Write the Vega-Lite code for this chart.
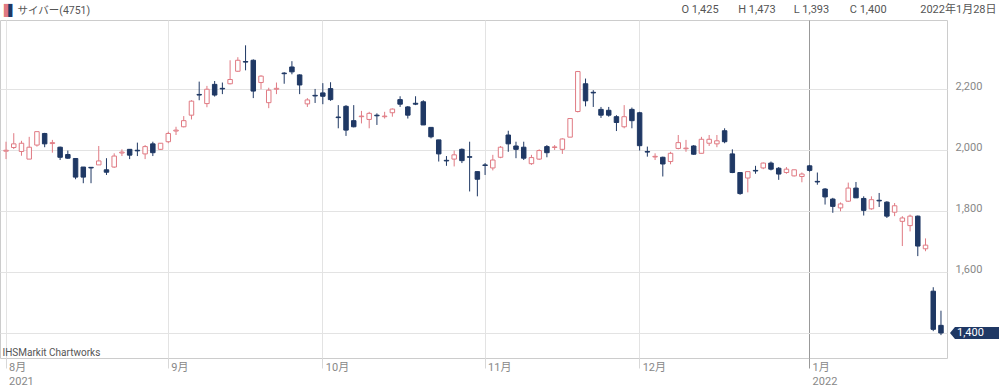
{
  "$schema": "https://vega.github.io/schema/vega-lite/v6.json",
  "width": 947,
  "height": 338,
  "autosize": "none",
  "padding": {"left": 0, "top": 20, "right": 53, "bottom": 31},
  "background": "white",
  "title": {
    "text": "▌",
    "subtitle": "▐",
    "anchor": "start",
    "frame": "group",
    "font": "DejaVu Sans",
    "fontSize": 11,
    "fontWeight": "normal",
    "color": "#e07a83",
    "subtitleFont": "DejaVu Sans",
    "subtitleFontSize": 11,
    "subtitleColor": "#1f3864",
    "subtitlePadding": -11,
    "offset": 0,
    "dx": 4,
    "dy": 13
  },
  "config": {
    "view": {"stroke": "#cccccc"},
    "font": "Roboto, Noto Sans CJK JP"
  },
  "datasets": {
    "p": [
      {"d":"2021-08-02","o":1996,"h":2027,"l":1970,"c":1999},
      {"d":"2021-08-03","o":2008,"h":2055,"l":2003,"c":2020},
      {"d":"2021-08-04","o":1995,"h":2030,"l":1981,"c":2022},
      {"d":"2021-08-05","o":1970,"h":2043,"l":1970,"c":2009},
      {"d":"2021-08-06","o":2016,"h":2060,"l":2011,"c":2060},
      {"d":"2021-08-10","o":2054,"h":2056,"l":2009,"c":2020},
      {"d":"2021-08-11","o":2021,"h":2033,"l":1991,"c":2024},
      {"d":"2021-08-12","o":2009,"h":2011,"l":1967,"c":1976},
      {"d":"2021-08-13","o":1985,"h":1998,"l":1971,"c":1973},
      {"d":"2021-08-16","o":1972,"h":1972,"l":1904,"c":1911},
      {"d":"2021-08-17","o":1944,"h":1944,"l":1891,"c":1911},
      {"d":"2021-08-18","o":1943,"h":1944,"l":1891,"c":1941},
      {"d":"2021-08-19","o":1951,"h":2013,"l":1951,"c":1964},
      {"d":"2021-08-20","o":1935,"h":1973,"l":1918,"c":1927},
      {"d":"2021-08-23","o":1944,"h":1989,"l":1941,"c":1980},
      {"d":"2021-08-24","o":1990,"h":2002,"l":1980,"c":1993},
      {"d":"2021-08-25","o":2002,"h":2003,"l":1970,"c":1983},
      {"d":"2021-08-26","o":1999,"h":2024,"l":1980,"c":1997},
      {"d":"2021-08-27","o":1987,"h":2016,"l":1970,"c":2011},
      {"d":"2021-08-30","o":2020,"h":2027,"l":1980,"c":1991},
      {"d":"2021-08-31","o":2002,"h":2022,"l":2000,"c":2022},
      {"d":"2021-09-01","o":2027,"h":2060,"l":2022,"c":2054},
      {"d":"2021-09-02","o":2062,"h":2076,"l":2049,"c":2065},
      {"d":"2021-09-03","o":2076,"h":2111,"l":2074,"c":2096},
      {"d":"2021-09-06","o":2114,"h":2163,"l":2100,"c":2160},
      {"d":"2021-09-07","o":2182,"h":2224,"l":2163,"c":2180},
      {"d":"2021-09-08","o":2152,"h":2210,"l":2140,"c":2199},
      {"d":"2021-09-09","o":2215,"h":2226,"l":2175,"c":2180},
      {"d":"2021-09-10","o":2202,"h":2221,"l":2183,"c":2200},
      {"d":"2021-09-13","o":2217,"h":2294,"l":2215,"c":2231},
      {"d":"2021-09-14","o":2258,"h":2304,"l":2256,"c":2294},
      {"d":"2021-09-15","o":2290,"h":2343,"l":2261,"c":2288},
      {"d":"2021-09-16","o":2294,"h":2297,"l":2170,"c":2193},
      {"d":"2021-09-17","o":2221,"h":2245,"l":2199,"c":2242},
      {"d":"2021-09-21","o":2155,"h":2204,"l":2137,"c":2196},
      {"d":"2021-09-22","o":2199,"h":2221,"l":2183,"c":2202},
      {"d":"2021-09-24","o":2252,"h":2255,"l":2217,"c":2250},
      {"d":"2021-09-27","o":2272,"h":2291,"l":2248,"c":2256},
      {"d":"2021-09-28","o":2246,"h":2248,"l":2183,"c":2213},
      {"d":"2021-09-29","o":2151,"h":2170,"l":2141,"c":2164},
      {"d":"2021-09-30","o":2179,"h":2200,"l":2154,"c":2177},
      {"d":"2021-10-01","o":2187,"h":2219,"l":2150,"c":2176},
      {"d":"2021-10-04","o":2201,"h":2222,"l":2161,"c":2165},
      {"d":"2021-10-05","o":2108,"h":2147,"l":2071,"c":2106},
      {"d":"2021-10-06","o":2143,"h":2147,"l":2046,"c":2065},
      {"d":"2021-10-07","o":2096,"h":2147,"l":2074,"c":2076},
      {"d":"2021-10-08","o":2109,"h":2128,"l":2087,"c":2111},
      {"d":"2021-10-11","o":2100,"h":2125,"l":2071,"c":2120},
      {"d":"2021-10-12","o":2114,"h":2120,"l":2082,"c":2112},
      {"d":"2021-10-13","o":2109,"h":2125,"l":2103,"c":2111},
      {"d":"2021-10-14","o":2122,"h":2136,"l":2109,"c":2134},
      {"d":"2021-10-15","o":2165,"h":2176,"l":2141,"c":2150},
      {"d":"2021-10-18","o":2141,"h":2144,"l":2103,"c":2114},
      {"d":"2021-10-19","o":2153,"h":2176,"l":2147,"c":2150},
      {"d":"2021-10-20","o":2158,"h":2163,"l":2082,"c":2082},
      {"d":"2021-10-21","o":2074,"h":2074,"l":2038,"c":2043},
      {"d":"2021-10-22","o":2033,"h":2033,"l":1962,"c":1987},
      {"d":"2021-10-25","o":1966,"h":1980,"l":1948,"c":1964},
      {"d":"2021-10-26","o":1970,"h":1998,"l":1946,"c":1984},
      {"d":"2021-10-27","o":2002,"h":2005,"l":1957,"c":1965},
      {"d":"2021-10-28","o":1978,"h":2027,"l":1864,"c":1976},
      {"d":"2021-10-29","o":1929,"h":1929,"l":1848,"c":1904},
      {"d":"2021-11-01","o":1951,"h":1957,"l":1918,"c":1949},
      {"d":"2021-11-02","o":1941,"h":1984,"l":1933,"c":1967},
      {"d":"2021-11-04","o":1976,"h":2013,"l":1973,"c":2009},
      {"d":"2021-11-05","o":2049,"h":2063,"l":1994,"c":2020},
      {"d":"2021-11-08","o":2013,"h":2027,"l":1973,"c":2002},
      {"d":"2021-11-09","o":2009,"h":2027,"l":1967,"c":1973},
      {"d":"2021-11-10","o":1955,"h":1984,"l":1951,"c":1975},
      {"d":"2021-11-11","o":1970,"h":2002,"l":1967,"c":1998},
      {"d":"2021-11-12","o":2011,"h":2016,"l":1976,"c":1991},
      {"d":"2021-11-15","o":2008,"h":2016,"l":2000,"c":2010},
      {"d":"2021-11-16","o":2002,"h":2038,"l":1987,"c":2036},
      {"d":"2021-11-17","o":2042,"h":2103,"l":2042,"c":2103},
      {"d":"2021-11-18","o":2126,"h":2259,"l":2123,"c":2257},
      {"d":"2021-11-19","o":2217,"h":2234,"l":2143,"c":2161},
      {"d":"2021-11-22","o":2189,"h":2196,"l":2141,"c":2187},
      {"d":"2021-11-24","o":2133,"h":2141,"l":2105,"c":2114},
      {"d":"2021-11-25","o":2130,"h":2141,"l":2109,"c":2114},
      {"d":"2021-11-26","o":2109,"h":2114,"l":2062,"c":2090},
      {"d":"2021-11-29","o":2076,"h":2147,"l":2071,"c":2109},
      {"d":"2021-11-30","o":2133,"h":2139,"l":2071,"c":2096},
      {"d":"2021-12-01","o":2122,"h":2125,"l":1998,"c":2014},
      {"d":"2021-12-02","o":1995,"h":2011,"l":1978,"c":1993},
      {"d":"2021-12-03","o":1977,"h":1989,"l":1967,"c":1979},
      {"d":"2021-12-06","o":1976,"h":1978,"l":1913,"c":1954},
      {"d":"2021-12-07","o":1962,"h":1994,"l":1953,"c":1989},
      {"d":"2021-12-08","o":2005,"h":2049,"l":2002,"c":2024},
      {"d":"2021-12-09","o":2004,"h":2033,"l":1994,"c":2006},
      {"d":"2021-12-10","o":2013,"h":2016,"l":1984,"c":1986},
      {"d":"2021-12-13","o":1989,"h":2043,"l":1989,"c":2035},
      {"d":"2021-12-14","o":2022,"h":2049,"l":2013,"c":2035},
      {"d":"2021-12-15","o":2020,"h":2049,"l":2009,"c":2030},
      {"d":"2021-12-16","o":2063,"h":2071,"l":2022,"c":2027},
      {"d":"2021-12-17","o":1987,"h":2002,"l":1924,"c":1926},
      {"d":"2021-12-20","o":1926,"h":1926,"l":1853,"c":1857},
      {"d":"2021-12-21","o":1908,"h":1929,"l":1861,"c":1929},
      {"d":"2021-12-22","o":1933,"h":1948,"l":1922,"c":1931},
      {"d":"2021-12-23","o":1941,"h":1959,"l":1937,"c":1957},
      {"d":"2021-12-24","o":1957,"h":1962,"l":1933,"c":1937},
      {"d":"2021-12-27","o":1940,"h":1944,"l":1902,"c":1921},
      {"d":"2021-12-28","o":1926,"h":1944,"l":1922,"c":1937},
      {"d":"2021-12-29","o":1915,"h":1935,"l":1913,"c":1935},
      {"d":"2021-12-30","o":1913,"h":1926,"l":1894,"c":1921},
      {"d":"2022-01-04","o":1948,"h":1951,"l":1929,"c":1933},
      {"d":"2022-01-05","o":1897,"h":1926,"l":1886,"c":1895},
      {"d":"2022-01-06","o":1872,"h":1875,"l":1821,"c":1846},
      {"d":"2022-01-07","o":1839,"h":1843,"l":1794,"c":1815},
      {"d":"2022-01-11","o":1810,"h":1828,"l":1799,"c":1823},
      {"d":"2022-01-12","o":1832,"h":1893,"l":1830,"c":1875},
      {"d":"2022-01-13","o":1875,"h":1895,"l":1843,"c":1843},
      {"d":"2022-01-14","o":1841,"h":1848,"l":1785,"c":1802},
      {"d":"2022-01-17","o":1807,"h":1848,"l":1804,"c":1837},
      {"d":"2022-01-18","o":1835,"h":1859,"l":1813,"c":1833},
      {"d":"2022-01-19","o":1829,"h":1832,"l":1777,"c":1783},
      {"d":"2022-01-20","o":1796,"h":1826,"l":1783,"c":1817},
      {"d":"2022-01-21","o":1766,"h":1783,"l":1685,"c":1777},
      {"d":"2022-01-24","o":1752,"h":1788,"l":1733,"c":1783},
      {"d":"2022-01-25","o":1783,"h":1785,"l":1652,"c":1685},
      {"d":"2022-01-26","o":1676,"h":1710,"l":1668,"c":1688},
      {"d":"2022-01-27","o":1537,"h":1550,"l":1406,"c":1412},
      {"d":"2022-01-28","o":1425,"h":1473,"l":1393,"c":1400}
    ]
  },
  "data": {"name": "p"},
  "encoding": {
    "x": {
      "field": "d", "type": "ordinal",
      "scale": {"paddingInner": 0.42, "paddingOuter": 0.49},
      "axis": {
        "orient": "bottom",
        "values": ["2021-08-02","2021-09-01","2021-10-01","2021-11-01","2021-12-01","2022-01-04"],
        "labelExpr": "datum.value == '2021-08-02' ? ['8月','2021'] : datum.value == '2022-01-04' ? ['1月','2022'] : (toNumber(substring(datum.value,5,7)) + '月')",
        "labelAngle": 0,
        "labelAlign": "left",
        "labelBaseline": "top",
        "labelOffset": 3,
        "labelPadding": -7,
        "labelLineHeight": 14,
        "labelColor": "#888888",
        "labelFontSize": 11,
        "labelOverlap": false,
        "tickSize": 10,
        "tickColor": {"condition": {"test": "datum.value == '2022-01-04'", "value": "#999999"}, "value": "#d8d8d8"},
        "grid": true,
        "gridColor": {"condition": {"test": "datum.value == '2022-01-04'", "value": "#999999"}, "value": "#e3e3e3"},
        "domain": false,
        "title": "IHSMarkit Chartworks",
        "titleX": 2,
        "titleY": -6,
        "titleAlign": "left",
        "titleBaseline": "middle",
        "titleFontSize": 10,
        "titleFontWeight": "normal",
        "titleColor": "#555555"
      }
    }
  },
  "layer": [
    {
      "mark": {"type": "rule", "strokeWidth": 1},
      "encoding": {
        "y": {
          "field": "l", "type": "quantitative",
          "scale": {"domain": [1318, 2426], "nice": false, "zero": false},
          "axis": {
            "orient": "right",
            "values": [1400, 1600, 1800, 2000, 2200],
            "format": ",.0f",
            "labelExpr": "datum.value == 1400 ? '' : datum.label",
            "labelColor": "#888888",
            "labelFontSize": 11,
            "labelPadding": 8,
            "labelOffset": -2,
            "ticks": false,
            "domain": false,
            "grid": true,
            "gridColor": "#e3e3e3",
            "title": "O 1,425\u2003\u2002\u2005H 1,473\u2003\u2002\u200aL 1,393\u2003\u2002\u2004C 1,400\u2003\u2003\u20032022年1月28日",
            "titleAngle": 0,
            "titleX": 49,
            "titleY": -11,
            "titleAlign": "right",
            "titleBaseline": "middle",
            "titleFontSize": 11,
            "titleFontWeight": "normal",
            "titleColor": "#555555"
          }
        },
        "y2": {"field": "h"},
        "color": {"condition": {"test": "datum.c < datum.o", "value": "#1f3864"}, "value": "#e07a83"}
      }
    },
    {
      "mark": {"type": "bar", "strokeWidth": 1},
      "encoding": {
        "y": {
          "field": "o", "type": "quantitative",
          "scale": {"domain": [1318, 2426], "nice": false, "zero": false},
          "axis": {
            "orient": "left",
            "labels": false, "ticks": false, "domain": false, "grid": false,
            "title": "サイバー(4751)",
            "titleAngle": 0,
            "titleX": 17,
            "titleY": -10,
            "titleAlign": "left",
            "titleBaseline": "middle",
            "titleFontSize": 10.5,
            "titleFontWeight": "normal",
            "titleColor": "#555555"
          }
        },
        "y2": {"field": "c"},
        "fill": {"condition": {"test": "datum.c < datum.o", "value": "#1f3864"}, "value": "#ffffff"},
        "stroke": {"condition": {"test": "datum.c < datum.o", "value": "#1f3864"}, "value": "#e07a83"}
      }
    },
    {
      "transform": [{"filter": "datum.d == '2022-01-28'"}],
      "mark": {"type": "point", "filled": true, "opacity": 1, "size": 4, "shape": "M9,0L14,-6L58,-6L58,6L14,6Z", "color": "#1f3864", "clip": false},
      "encoding": {
        "y": {"field": "c", "type": "quantitative", "axis": null, "scale": {"domain": [1318, 2426], "nice": false, "zero": false}}
      }
    },
    {
      "transform": [{"filter": "datum.d == '2022-01-28'"}],
      "mark": {"type": "text", "align": "left", "baseline": "middle", "dx": 16, "color": "#ffffff", "fontSize": 11},
      "encoding": {
        "y": {"field": "c", "type": "quantitative", "axis": null, "scale": {"domain": [1318, 2426], "nice": false, "zero": false}},
        "text": {"field": "c", "format": ","}
      }
    }
  ]
}
